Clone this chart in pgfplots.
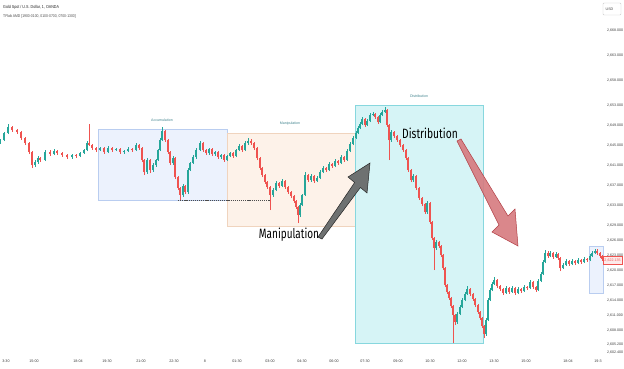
\documentclass[border=0pt]{standalone}
\usepackage{pgfplots}
\pgfplotsset{compat=1.18}
\usepackage{pgfplotstable}
\usepackage{fontspec}
\setmainfont{Liberation Sans}
\newfontfamily\bigf{Fira Sans}
\definecolor{upc}{RGB}{38,166,154}
\definecolor{dnc}{RGB}{239,83,80}
\definecolor{accfill}{RGB}{236,242,253}
\definecolor{accdraw}{RGB}{185,205,240}
\definecolor{manfill}{RGB}{253,242,233}
\definecolor{mandraw}{RGB}{240,212,190}
\definecolor{disfill}{RGB}{214,244,246}
\definecolor{disdraw}{RGB}{135,215,222}
\definecolor{labc}{RGB}{70,135,145}
\definecolor{redarrow}{RGB}{214,122,127}
\definecolor{redarrowd}{RGB}{178,62,68}
\definecolor{grayarrow}{RGB}{110,113,113}
\pgfplotstableread{
x o c h l
0 2645.6 2646.0 2646.3 2645.3
4 2646.0 2647.4 2647.7 2645.8
8 2647.4 2648.6 2649.2 2647.2
12 2648.6 2648.0 2648.9 2647.7
17 2648.0 2647.6 2648.3 2647.3
21 2647.6 2646.4 2647.9 2646.1
25 2646.4 2645.4 2646.7 2645.0
29 2645.4 2643.6 2645.7 2643.2
32 2643.6 2641.0 2643.9 2640.4
35 2641.0 2641.6 2642.0 2640.6
38 2641.6 2642.4 2642.8 2641.3
40 2642.4 2642.0 2642.7 2641.7
45 2642.0 2643.6 2644.0 2641.8
50 2643.6 2643.2 2644.0 2642.9
54 2643.2 2643.8 2644.2 2643.0
57 2643.8 2643.4 2644.1 2643.1
62 2643.4 2643.0 2643.7 2642.7
67 2643.0 2642.6 2643.3 2642.3
72 2642.6 2643.0 2643.3 2642.3
76 2643.0 2642.8 2643.3 2642.5
80 2642.8 2643.4 2643.7 2642.6
84 2643.4 2644.0 2644.3 2643.2
87 2644.0 2645.4 2645.8 2643.8
89 2645.4 2645.0 2649.2 2644.8
92 2645.0 2644.4 2645.2 2644.1
96 2644.4 2644.0 2644.7 2643.7
100 2644.0 2644.4 2644.7 2643.8
104 2644.4 2643.6 2644.7 2643.3
108 2643.6 2644.4 2644.8 2643.4
112 2644.4 2644.0 2644.7 2643.7
116 2644.0 2644.2 2644.5 2643.8
120 2644.2 2643.6 2644.5 2643.3
124 2643.6 2643.8 2644.1 2643.3
128 2643.8 2644.2 2644.6 2643.6
132 2644.2 2644.0 2644.5 2643.7
136 2644.0 2645.0 2645.4 2643.8
139 2645.0 2644.4 2645.3 2644.1
142 2644.4 2642.0 2644.6 2641.6
144 2642.0 2639.6 2642.2 2639.0
147 2639.6 2642.0 2642.4 2639.3
150 2642.0 2640.0 2642.3 2639.4
153 2640.0 2641.0 2641.4 2639.7
156 2641.0 2642.0 2642.3 2640.7
158 2642.0 2644.0 2644.3 2641.8
160 2644.0 2646.0 2646.4 2643.8
162 2646.0 2647.8 2648.6 2645.8
165 2647.8 2646.0 2648.0 2645.7
168 2646.0 2643.6 2646.2 2643.2
170 2643.6 2641.4 2643.8 2641.0
173 2641.4 2642.4 2642.8 2641.1
175 2642.4 2638.6 2642.6 2638.2
178 2638.6 2636.4 2638.9 2636.0
180 2636.4 2635.0 2636.7 2634.0
183 2635.0 2636.8 2637.2 2634.6
185 2636.8 2635.6 2637.0 2635.2
188 2635.6 2640.0 2640.4 2635.3
190 2640.0 2641.4 2641.7 2639.8
193 2641.4 2642.6 2643.0 2641.2
196 2642.6 2644.0 2644.4 2642.3
200 2644.0 2645.4 2645.8 2643.8
203 2645.4 2644.0 2645.6 2643.7
206 2644.0 2643.4 2644.3 2643.1
209 2643.4 2644.2 2644.5 2643.1
212 2644.2 2643.2 2644.5 2642.9
215 2643.2 2643.6 2643.9 2642.9
218 2643.6 2642.6 2643.9 2642.3
221 2642.6 2643.0 2643.3 2642.3
224 2643.0 2642.0 2643.3 2641.7
227 2642.0 2642.8 2643.1 2641.8
230 2642.8 2643.4 2643.7 2642.6
233 2643.4 2642.8 2643.6 2642.5
236 2642.8 2644.0 2644.3 2642.6
239 2644.0 2644.8 2645.2 2643.8
242 2644.8 2644.0 2645.0 2643.7
245 2644.0 2645.4 2645.8 2643.8
248 2645.4 2645.8 2646.4 2645.1
251 2645.8 2645.4 2646.2 2645.1
254 2645.4 2644.4 2645.6 2644.1
257 2644.4 2642.4 2644.6 2642.0
260 2642.4 2640.4 2642.6 2640.0
262 2640.4 2639.0 2640.7 2638.6
265 2639.0 2637.6 2639.3 2637.2
267 2637.6 2636.6 2637.8 2636.2
270 2636.6 2635.0 2636.8 2632.0
273 2635.0 2636.0 2636.4 2634.7
276 2636.0 2637.4 2637.8 2635.8
279 2637.4 2636.8 2637.6 2636.5
282 2636.8 2637.8 2638.2 2636.6
285 2637.8 2636.6 2638.0 2636.3
288 2636.6 2635.6 2636.8 2635.3
291 2635.6 2634.8 2635.9 2634.4
294 2634.8 2633.8 2635.0 2633.4
296 2633.8 2632.6 2634.0 2632.2
298 2632.6 2631.0 2632.8 2629.4
300 2631.0 2633.0 2633.4 2630.6
302 2633.0 2635.0 2635.3 2632.8
305 2635.0 2639.0 2639.6 2634.8
308 2639.0 2638.0 2639.2 2637.7
311 2638.0 2638.8 2639.2 2637.7
314 2638.8 2637.8 2639.0 2637.5
317 2637.8 2638.4 2638.8 2637.6
320 2638.4 2639.6 2640.0 2638.2
323 2639.6 2640.4 2640.8 2639.4
326 2640.4 2640.0 2640.6 2639.7
329 2640.0 2641.2 2641.6 2639.8
332 2641.2 2640.8 2641.4 2640.5
335 2640.8 2641.8 2642.2 2640.6
338 2641.8 2641.4 2642.0 2641.1
341 2641.4 2642.6 2643.0 2641.2
344 2642.6 2642.0 2642.8 2641.7
347 2642.0 2643.8 2644.2 2641.8
350 2643.8 2645.2 2645.6 2643.6
353 2645.2 2646.4 2646.8 2645.0
356 2646.4 2647.4 2647.8 2646.2
358 2647.4 2648.4 2648.8 2647.2
360 2648.4 2649.2 2649.6 2648.2
362 2649.2 2650.2 2650.6 2649.0
365 2650.2 2649.0 2650.4 2648.7
367 2649.0 2649.8 2650.2 2648.8
370 2649.8 2651.0 2651.4 2649.6
373 2651.0 2651.2 2651.6 2650.8
375 2651.2 2650.6 2651.5 2650.3
378 2650.6 2649.6 2650.8 2649.3
380 2649.6 2651.0 2651.4 2649.4
382 2651.0 2651.6 2652.0 2650.8
385 2651.6 2652.0 2652.6 2651.4
387 2652.0 2649.0 2652.2 2648.6
389 2649.0 2646.0 2649.2 2642.0
391 2646.0 2647.6 2648.0 2645.7
394 2647.6 2646.8 2647.8 2646.5
397 2646.8 2646.0 2647.0 2645.7
400 2646.0 2645.0 2646.2 2644.7
403 2645.0 2644.0 2645.2 2643.7
406 2644.0 2642.4 2644.2 2642.0
408 2642.4 2640.0 2642.6 2639.6
411 2640.0 2638.0 2640.2 2637.6
413 2638.0 2638.8 2639.2 2637.7
416 2638.8 2636.4 2639.0 2636.0
419 2636.4 2634.4 2636.6 2634.0
422 2634.4 2633.2 2634.6 2632.8
425 2633.2 2631.6 2633.4 2631.2
427 2631.6 2633.4 2633.8 2631.3
430 2633.4 2629.6 2633.6 2629.2
432 2629.6 2626.4 2629.8 2626.0
434 2626.4 2624.4 2626.6 2620.0
436 2624.4 2625.6 2626.0 2624.1
439 2625.6 2624.8 2625.8 2624.5
441 2624.8 2623.0 2625.0 2622.6
443 2623.0 2620.4 2623.2 2620.0
445 2620.4 2617.0 2620.6 2616.6
447 2617.0 2615.6 2617.2 2615.2
449 2615.6 2614.4 2615.8 2614.0
451 2614.4 2612.8 2614.6 2612.4
453 2612.8 2611.0 2613.0 2605.4
455 2611.0 2609.6 2611.2 2609.0
457 2609.6 2611.2 2611.6 2609.3
460 2611.2 2612.6 2613.0 2611.0
462 2612.6 2614.0 2614.4 2612.4
465 2614.0 2615.2 2615.6 2613.8
467 2615.2 2616.2 2616.8 2615.0
470 2616.2 2615.2 2616.4 2614.9
473 2615.2 2614.2 2615.4 2613.9
475 2614.2 2613.0 2614.4 2612.6
478 2613.0 2611.6 2613.2 2611.2
480 2611.6 2610.4 2611.8 2610.0
482 2610.4 2608.8 2610.6 2608.4
484 2608.8 2607.2 2609.0 2606.4
486 2607.2 2610.0 2610.4 2606.9
488 2610.0 2614.0 2614.4 2609.8
490 2614.0 2616.0 2616.4 2613.8
492 2616.0 2617.2 2617.6 2615.8
494 2617.2 2618.0 2618.6 2617.0
497 2618.0 2616.8 2618.2 2616.5
500 2616.8 2616.2 2617.0 2615.9
503 2616.2 2615.4 2616.4 2615.1
506 2615.4 2616.4 2616.8 2615.2
509 2616.4 2615.6 2616.6 2615.3
512 2615.6 2616.4 2616.8 2615.4
515 2616.4 2615.4 2616.6 2615.1
518 2615.4 2616.2 2616.6 2615.2
521 2616.2 2615.8 2616.4 2615.5
524 2615.8 2616.6 2617.0 2615.6
527 2616.6 2616.4 2616.8 2616.1
530 2616.4 2617.6 2618.0 2616.2
533 2617.6 2616.6 2617.8 2616.3
536 2616.6 2616.0 2616.8 2615.7
538 2616.0 2617.8 2618.2 2615.8
541 2617.8 2619.2 2619.6 2617.6
543 2619.2 2621.6 2622.0 2619.0
545 2621.6 2623.4 2624.0 2621.4
548 2623.4 2622.8 2623.8 2622.5
550 2622.8 2623.4 2623.8 2622.6
553 2623.4 2622.6 2623.6 2622.3
556 2622.6 2623.2 2623.6 2622.4
558 2623.2 2622.4 2623.4 2622.1
560 2622.4 2620.4 2622.6 2619.8
563 2620.4 2621.0 2621.4 2620.2
566 2621.0 2621.8 2622.2 2620.8
569 2621.8 2621.2 2622.0 2620.9
572 2621.2 2621.8 2622.2 2621.0
575 2621.8 2621.4 2622.0 2621.1
578 2621.4 2622.0 2622.4 2621.2
581 2622.0 2621.6 2622.2 2621.3
584 2621.6 2622.2 2622.6 2621.4
587 2622.2 2622.0 2622.4 2621.7
590 2622.0 2622.8 2623.2 2621.8
592 2622.8 2623.4 2623.8 2622.6
595 2623.4 2623.8 2624.2 2623.2
597 2623.8 2623.4 2624.2 2623.1
600 2623.4 2622.8 2623.6 2622.5
602 2622.8 2622.2 2623.0 2621.9
}\candles
\begin{document}
\begin{tikzpicture}
\path[use as bounding box] (0pt,0pt) rectangle (624pt,368pt);
\fill[white] (0pt,0pt) rectangle (624pt,368pt);
\begin{axis}[
  at={(0pt,16pt)}, anchor=south west,
  scale only axis, width=603pt, height=352pt,
  xmin=0, xmax=603, ymin=2603.6, ymax=2674,
  clip=false,
  axis line style={draw=none},
  major tick length=0pt, tick style={draw=none},
  xtick={6,34,78,107,141,174,205,237,270,302,334,365,398,430,462,494,526,568,598},
  xticklabels={3:30,15:00,18:04,19:30,21:00,22:30,8,01:30,03:00,04:30,06:00,07:30,09:00,10:30,12:00,13:30,15:00,18:04,19:3},
  xticklabel style={anchor=center, yshift=-9pt, font=\fontsize{3.7}{4}\selectfont, text=black!75},
  yticklabel pos=right,
  ytick={2603.6,2605.2,2608,2611,2614,2617,2620,2623,2626,2629,2633,2637,2641,2645,2649,2653,2658,2663,2668},
  yticklabels={{2,602.400},{2,605.200},{2,608.000},{2,611.000},{2,614.000},{2,617.000},{2,620.000},{2,623.000},{2,626.000},{2,629.000},{2,633.000},{2,637.000},{2,641.000},{2,645.000},{2,649.000},{2,653.000},{2,658.000},{2,663.000},{2,668.000}},
  yticklabel style={anchor=west, xshift=0.5pt, font=\fontsize{3.6}{4}\selectfont, text=black!75},
]
% boxes
\filldraw[fill=accfill, draw=accdraw, line width=0.5pt] (axis cs:98,2648.2) rectangle (axis cs:227,2634);
\filldraw[fill=manfill, draw=mandraw, line width=0.5pt] (axis cs:227,2647.4) rectangle (axis cs:355,2628.8);
\filldraw[fill=disfill, draw=disdraw, line width=0.5pt] (axis cs:355,2653) rectangle (axis cs:483,2605.4);
\filldraw[fill=accfill, draw=accdraw, line width=0.5pt] (axis cs:589,2624.8) rectangle (axis cs:603,2615.4);
\draw[black!70, dash pattern=on 1.2pt off 0.9pt, line width=0.5pt] (axis cs:178,2634) -- (axis cs:270,2634);
% wicks
\addplot[draw=none, mark=none, restrict expr to domain={\thisrow{c}-\thisrow{o}}{0.01:1000},
  error bars/.cd, y dir=plus, y explicit, error mark=none, error bar style={draw=upc, line width=0.45pt}]
  table[x=x, y=l, y error plus expr=\thisrow{h}-\thisrow{l}] {\candles};
\addplot[draw=none, mark=none, restrict expr to domain={\thisrow{c}-\thisrow{o}}{-1000:-0.01},
  error bars/.cd, y dir=plus, y explicit, error mark=none, error bar style={draw=dnc, line width=0.45pt}]
  table[x=x, y=l, y error plus expr=\thisrow{h}-\thisrow{l}] {\candles};
% bodies
\addplot[draw=none, mark=none, restrict expr to domain={\thisrow{c}-\thisrow{o}}{0.01:1000},
  error bars/.cd, y dir=plus, y explicit, error mark=none, error bar style={draw=upc, line width=1.2pt}]
  table[x=x, y=o, y error plus expr=\thisrow{c}-\thisrow{o}] {\candles};
\addplot[draw=none, mark=none, restrict expr to domain={\thisrow{c}-\thisrow{o}}{-1000:-0.01},
  error bars/.cd, y dir=plus, y explicit, error mark=none, error bar style={draw=dnc, line width=1.2pt}]
  table[x=x, y=c, y error plus expr=\thisrow{o}-\thisrow{c}] {\candles};
% small box labels
\node[font=\fontsize{3.6}{4}\selectfont, text=labc] at (axis cs:162,2650.0) {Accumulation};
\node[font=\fontsize{3.6}{4}\selectfont, text=labc] at (axis cs:290,2649.2) {Manipulation};
\node[font=\fontsize{3.6}{4}\selectfont, text=labc] at (axis cs:419,2654.8) {Distribution};
% arrows
\filldraw[fill=grayarrow, draw=black!85, line width=0.5pt, line join=miter]
  (axis cs:318,2626.6) -- (axis cs:354.6,2637.5) -- (axis cs:348,2638.6) -- (axis cs:370,2641.4)
  -- (axis cs:367,2635.4) -- (axis cs:360.4,2636.5) -- (axis cs:322,2626.2) -- cycle;
\filldraw[fill=redarrow, fill opacity=0.9, draw=redarrowd, line width=0.5pt, line join=miter]
  (axis cs:457,2645.8) -- (axis cs:499,2629.0) -- (axis cs:492,2627.6) -- (axis cs:518,2624.8)
  -- (axis cs:515,2632.2) -- (axis cs:508,2630.8) -- (axis cs:461,2646.2) -- cycle;
% big labels
\node[anchor=base, inner sep=0pt, font=\bigf\fontsize{13.5}{14}\selectfont] at (axis cs:289,2626.4) {\scalebox{0.74}[1]{Manipulation}};
\node[anchor=base, inner sep=0pt, font=\bigf\fontsize{13.5}{14}\selectfont] at (axis cs:430,2646.4) {\scalebox{0.76}[1]{Distribution}};
\end{axis}
% title
\node[anchor=base west, inner sep=0pt, font=\fontsize{4.3}{5}\selectfont, text=black!85] at (3pt,359.5pt) {\scalebox{0.85}[1]{Gold Spot / U.S. Dollar, 1, OANDA}};
\node[anchor=base west, inner sep=0pt, font=\fontsize{4}{5}\selectfont, text=black!70] at (3pt,351pt) {\scalebox{0.85}[1]{TFlab AMD [1900-0100, 0100-0700, 0700-1300]}};
% USD box
\draw[black!20, rounded corners=1pt, line width=0.4pt] (603pt,353pt) rectangle (621pt,365pt);
\node[anchor=west, inner sep=0pt, font=\fontsize{3.6}{4}\selectfont, text=black!75] at (605.5pt,359pt) {USD};
% current price label
\filldraw[fill=dnc!12, draw=dnc, line width=0.4pt] (603pt,104pt) rectangle (622pt,112pt);
\node[inner sep=0pt, font=\fontsize{3.6}{4}\selectfont, text=dnc] at (612.5pt,108pt) {2,622.135};
\end{tikzpicture}
\end{document}
